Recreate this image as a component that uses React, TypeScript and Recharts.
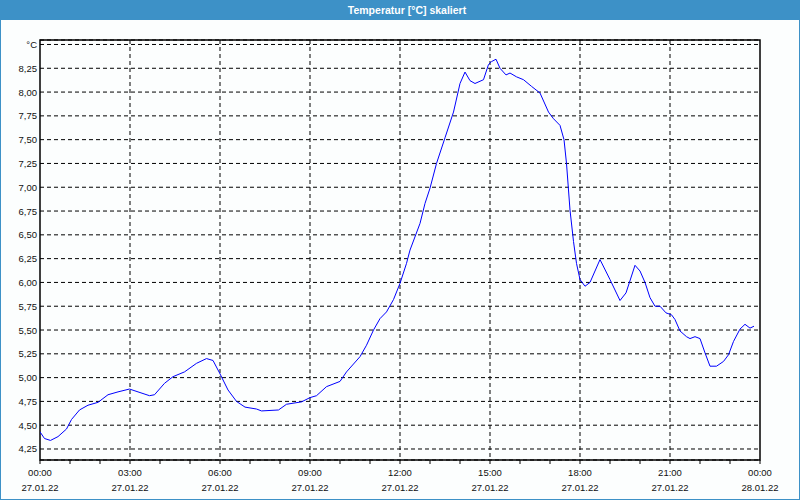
import React from "react";
import { LineChart, Line, XAxis, YAxis, CartesianGrid, ReferenceArea } from "recharts";

// minutes since 27.01.22 00:00
const times = [
  0, 9, 21, 36, 53, 63, 79, 96, 116, 136, 156, 179, 196, 219, 229, 249, 266, 289, 313, 333,
  346, 359, 376, 393, 410, 433, 443, 477, 493, 523, 540, 553, 573, 600, 613, 640, 653, 667, 680, 693,
  707, 720, 733, 740, 760, 770, 780, 793, 810, 827, 840, 850, 860, 870, 887, 897, 903, 912, 920, 932,
  940, 953, 967, 983, 1000, 1017, 1027, 1040, 1048, 1053, 1060, 1067, 1073, 1080, 1090, 1100, 1120, 1140, 1160, 1172,
  1190, 1200, 1210, 1220, 1230, 1240, 1252, 1263, 1270, 1280, 1293, 1300, 1310, 1320, 1330, 1340, 1353, 1367, 1377, 1387,
  1400, 1410, 1420, 1428,
];
const temps = [
  4.43, 4.36, 4.34, 4.38, 4.46, 4.56, 4.66, 4.71, 4.74, 4.82, 4.85, 4.88, 4.85, 4.81, 4.82, 4.94, 5.01, 5.06, 5.15, 5.2,
  5.18, 5.05, 4.87, 4.75, 4.69, 4.67, 4.65, 4.66, 4.72, 4.745, 4.79, 4.81, 4.905, 4.96, 5.06, 5.22, 5.34, 5.5, 5.62, 5.69,
  5.82, 5.99, 6.2, 6.34, 6.62, 6.83, 6.99, 7.25, 7.52, 7.79, 8.09, 8.21, 8.12, 8.09, 8.13, 8.29, 8.32, 8.345, 8.25, 8.18,
  8.2, 8.16, 8.13, 8.06, 7.99, 7.79, 7.72, 7.65, 7.5, 7.25, 6.76, 6.43, 6.2, 6.03, 5.96, 6.0, 6.24, 6.03, 5.81, 5.89,
  6.18, 6.12, 6.0, 5.84, 5.75, 5.75, 5.68, 5.66, 5.61, 5.49, 5.43, 5.41, 5.43, 5.41, 5.26, 5.12, 5.12, 5.17, 5.24, 5.38,
  5.51, 5.56, 5.52, 5.54,
];

const hourTicks = [
  0, 60, 120, 180, 240, 300, 360, 420, 480, 540, 600, 660, 720, 780, 840, 900, 960, 1020, 1080, 1140,
  1200, 1260, 1320, 1380, 1440,
];
const labelTicks = [0, 180, 360, 540, 720, 900, 1080, 1260, 1440];
const timeLabels = ["00:00", "03:00", "06:00", "09:00", "12:00", "15:00", "18:00", "21:00", "00:00"];
const dateLabels = ["27.01.22", "27.01.22", "27.01.22", "27.01.22", "27.01.22", "27.01.22", "27.01.22", "27.01.22", "28.01.22"];
const gridTicks = [180, 360, 540, 720, 900, 1080, 1260];

const yTicks = [4.25, 4.5, 4.75, 5.0, 5.25, 5.5, 5.75, 6.0, 6.25, 6.5, 6.75, 7.0, 7.25, 7.5, 7.75, 8.0, 8.25, 8.5];
const unitLabel = "°C";
const yMin = 4.1344;
const yMax = 8.547;

const data = times.map((t, i) => ({ t, temp: temps[i] }));

const FONT = "'Liberation Sans', Arial, sans-serif";

function XTick({ x, y, payload }: any) {
  const i = labelTicks.indexOf(payload.value);
  if (i < 0) return null;
  return (
    <g>
      <text x={x} y={y + 12} textAnchor="middle" fontSize={9.5} fontFamily={FONT} fill="#111">
        {timeLabels[i]}
      </text>
      <text x={x} y={y + 27} textAnchor="middle" fontSize={9.5} fontFamily={FONT} fill="#111">
        {dateLabels[i]}
      </text>
    </g>
  );
}

function YTick({ x, y, payload }: any) {
  const v = payload.value;
  const label = v === 8.5 ? unitLabel : v.toFixed(2).replace(".", ",");
  return (
    <text x={x - 3} y={y + 3.5} textAnchor="end" fontSize={9.5} fontFamily={FONT} fill="#111">
      {label}
    </text>
  );
}

export default function App() {
  return (
    <div
      style={{
        position: "absolute",
        left: 0,
        top: 0,
        width: 800,
        height: 500,
        boxSizing: "border-box",
        background: "#fcfefe",
        borderLeft: "1px solid #3d91c7",
        borderRight: "1px solid #3d91c7",
        borderBottom: "1px solid #3d91c7",
      }}
    >
      <LineChart width={800} height={500} data={data} margin={{ top: 40, right: 40, left: 0, bottom: 0 }} style={{ position: "absolute", left: -1, top: 0 }}>
        <CartesianGrid stroke="#000" strokeDasharray="4 3" verticalValues={gridTicks} />
        <XAxis
          dataKey="t"
          type="number"
          domain={[0, 1440]}
          ticks={hourTicks}
          interval={0}
          height={40}
          axisLine={false}
          tickLine={{ stroke: "#000" }}
          tickSize={4}
          tickMargin={0}
          tick={<XTick />}
          allowDataOverflow
        />
        <YAxis
          type="number"
          domain={[yMin, yMax]}
          ticks={yTicks}
          interval={0}
          width={40}
          axisLine={false}
          tickLine={false}
          tickSize={0}
          tickMargin={0}
          tick={<YTick />}
          allowDataOverflow
        />
        <ReferenceArea x1={0} x2={1440} y1={yMin} y2={yMax} fill="none" stroke="#000" strokeWidth={1.5} />
        <Line dataKey="temp" type="linear" stroke="#0000ff" strokeWidth={1} dot={false} isAnimationActive={false} />
      </LineChart>
      <div
        style={{
          position: "absolute",
          left: -1,
          top: 0,
          width: 800,
          height: 20,
          background: "#3d91c7",
          color: "#fff",
          fontFamily: FONT,
          fontWeight: "bold",
          fontSize: 10.5,
          lineHeight: "20px",
          textAlign: "center",
          paddingLeft: 14,
          boxSizing: "border-box",
        }}
      >
        Temperatur [°C] skaliert
      </div>
    </div>
  );
}
